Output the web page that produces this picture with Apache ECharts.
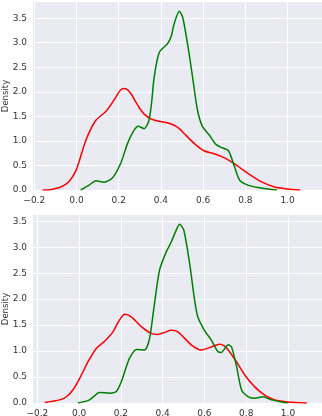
<!DOCTYPE html>
<html>
<head>
<meta charset="utf-8">
<script src="https://cdn.jsdelivr.net/npm/echarts@6/dist/echarts.min.js"></script>
<style>
  html, body { margin: 0; padding: 0; background: #fff; }
  #main { width: 322px; height: 416px; }
</style>
</head>
<body>
<div id="main"></div>
<script>
  // tick values
  let xTicks = [-0.2, 0.0, 0.2, 0.4, 0.6, 0.8, 1.0];
  let yTicks = [0.0, 0.5, 1.0, 1.5, 2.0, 2.5, 3.0, 3.5];

  // top panel, [x, density]
  let topRed = [[-0.16,0],[-0.12,0.01],[-0.08,0.05],[-0.05,0.12],[-0.03,0.2],[0.0,0.42],[0.045,1.02],[0.092,1.42],[0.139,1.6],
    [0.179,1.84],[0.205,2.02],[0.222,2.07],[0.24,2.05],[0.26,1.95],[0.28,1.8],[0.3,1.66],[0.322,1.54],[0.352,1.45],[0.39,1.4],
    [0.43,1.37],[0.463,1.32],[0.49,1.24],[0.51,1.15],[0.557,0.95],[0.604,0.8],[0.652,0.74],[0.699,0.66],[0.749,0.53],
    [0.812,0.34],[0.875,0.17],[0.938,0.06],[1.0,0.02],[1.06,0]];
  let topGreen = [[0.02,0],[0.06,0.1],[0.092,0.19],[0.131,0.16],[0.171,0.25],[0.21,0.55],[0.242,0.95],[0.27,1.2],[0.292,1.3],
    [0.321,1.25],[0.342,1.4],[0.355,1.75],[0.368,2.3],[0.392,2.8],[0.431,2.98],[0.448,3.12],[0.463,3.39],[0.487,3.64],
    [0.503,3.52],[0.526,2.98],[0.55,2.3],[0.573,1.63],[0.597,1.29],[0.629,1.12],[0.66,0.93],[0.69,0.86],[0.72,0.8],
    [0.749,0.47],[0.773,0.2],[0.812,0.1],[0.86,0.05],[0.907,0.02],[0.95,0]];

  // bottom panel, [x, density]
  let bottomRed = [[-0.165,0.01],[-0.093,0.06],[-0.061,0.12],[-0.03,0.25],[0.002,0.47],[0.042,0.79],[0.082,1.05],[0.122,1.19],
    [0.162,1.37],[0.186,1.55],[0.218,1.71],[0.25,1.66],[0.298,1.47],[0.345,1.34],[0.377,1.32],[0.41,1.36],[0.441,1.4],
    [0.473,1.37],[0.537,1.12],[0.585,1.02],[0.633,1.08],[0.672,1.13],[0.695,1.1],[0.714,1.02],[0.754,0.79],[0.793,0.54],
    [0.841,0.31],[0.889,0.15],[0.937,0.06],[1.0,0.02],[1.09,0]];
  let bottomGreen = [[-0.006,0],[0.05,0.06],[0.098,0.2],[0.146,0.19],[0.178,0.22],[0.202,0.41],[0.226,0.7],[0.242,0.87],
    [0.274,1.03],[0.313,1.02],[0.337,1.24],[0.361,1.92],[0.385,2.56],[0.417,2.91],[0.441,3.1],[0.465,3.33],[0.481,3.44],
    [0.501,3.33],[0.529,2.69],[0.553,1.98],[0.568,1.66],[0.6,1.4],[0.633,1.21],[0.664,0.99],[0.68,0.97],[0.714,1.12],
    [0.73,1.08],[0.754,0.7],[0.778,0.25],[0.81,0.12],[0.841,0.09],[0.881,0.12],[0.921,0.06],[0.969,0.02],[1.0,0]];

  let myChart = echarts.init(document.getElementById('main'), null, {renderer: 'canvas'});
  let font = 'DejaVu Sans';

  function xAxisOpt(idx, min, max) {
    return {
      type: 'value', gridIndex: idx, min: min, max: max,
      axisLine: {show: false}, axisTick: {show: false, customValues: xTicks},
      splitLine: {show: true, lineStyle: {color: '#fff', width: 1}},
      axisLabel: {customValues: xTicks, color: '#333', fontFamily: font, fontSize: 9, margin: 6,
        formatter: v => (v < 0 ? '\u2212' : '') + Math.abs(v).toFixed(1)}
    };
  }
  function yAxisOpt(idx, max) {
    return {
      type: 'value', gridIndex: idx, min: 0, max: max,
      name: 'Density', nameLocation: 'middle', nameGap: 23, nameMoveOverlap: false,
      nameTextStyle: {color: '#333', fontFamily: font, fontSize: 8.5},
      axisLine: {show: false}, axisTick: {show: false, customValues: yTicks},
      splitLine: {show: true, lineStyle: {color: '#fff', width: 1}},
      axisLabel: {customValues: yTicks, color: '#333', fontFamily: font, fontSize: 9, margin: 6,
        formatter: v => v.toFixed(1)}
    };
  }
  function lineOpt(idx, data, color) {
    return {
      type: 'line', xAxisIndex: idx, yAxisIndex: idx, data: data,
      smooth: 0.25, showSymbol: false, clip: true,
      lineStyle: {color: color, width: 1.5}
    };
  }

  myChart.setOption({
    animation: false,
    grid: [
      {left: 33, right: 0, top: 2, height: 188, show: true, backgroundColor: '#EAEAF2', borderWidth: 0,
        containLabel: false, outerBoundsMode: 'none'},
      {left: 33, right: 0, top: 215, height: 188, show: true, backgroundColor: '#EAEAF2', borderWidth: 0,
        containLabel: false, outerBoundsMode: 'none'}
    ],
    xAxis: [xAxisOpt(0, -0.206, 1.163), xAxisOpt(1, -0.221, 1.163)],
    yAxis: [yAxisOpt(0, 3.83), yAxisOpt(1, 3.62)],
    series: [
      lineOpt(0, topRed, 'red'),
      lineOpt(0, topGreen, 'green'),
      lineOpt(1, bottomRed, 'red'),
      lineOpt(1, bottomGreen, 'green')
    ]
  });
</script>
</body>
</html>
